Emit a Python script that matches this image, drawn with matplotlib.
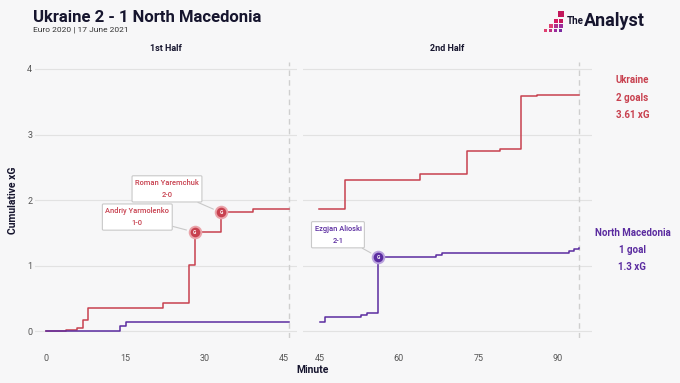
import matplotlib.pyplot as plt
from matplotlib.patches import Rectangle
import numpy as np

# cumulative xG, first half
ukr1_min = [0, 3.9, 6.0, 7.1, 8.0, 22.1, 27.1, 28.1, 33.1, 39.1, 46]
ukr1_xg = [0, 0.02, 0.045, 0.17, 0.35, 0.43, 1.01, 1.51, 1.81, 1.86, 1.86]
mkd1_min = [0, 14.0, 15.1, 46]
mkd1_xg = [0, 0.08, 0.145, 0.145]

# cumulative xG, second half
ukr2_min = [45, 49.9, 64.0, 72.9, 79.0, 83.1, 86.1, 94]
ukr2_xg = [1.86, 2.30, 2.40, 2.75, 2.78, 3.58, 3.61, 3.61]
mkd2_min = [45.2, 46.0, 52.9, 54.0, 56.1, 67.0, 68.1, 92.1, 93.1, 94]
mkd2_xg = [0.145, 0.22, 0.245, 0.27, 1.13, 1.16, 1.19, 1.22, 1.25, 1.27]

# goals: (minute, xG, label, label position)
ukr_goals = [(28.1, 1.51, "Andriy Yarmolenko\n1-0", (17.3, 1.74)),
             (33.1, 1.81, "Roman Yaremchuk\n2-0", (22.9, 2.17))]
mkd_goals = [(56.1, 1.13, "Ezgjan Alioski\n2-1", (48.5, 1.47))]

half_ends = [46, 94]
ticks1 = [0, 15, 30, 45]
ticks2 = [45, 60, 75, 90]
yticks = [0, 1, 2, 3, 4]

RED = "#c8414f"
PURPLE = "#5b2ca0"
BG = "#f7f7f8"
DARK = "#16152e"

plt.rcParams['font.family'] = ['Roboto', 'DejaVu Sans']

fig = plt.figure(figsize=(6.8, 3.83), dpi=100, facecolor=BG)
ax1 = fig.add_axes([0.0515, 0.1185, 0.385, 0.7185])
ax2 = fig.add_axes([0.4455, 0.1185, 0.425, 0.7185])


def style(ax, ticks, xlim, end):
    ax.set_facecolor(BG)
    for s in ax.spines.values():
        s.set_visible(False)
    ax.set_xlim(*xlim)
    ax.set_ylim(-0.1, 4.1)
    ax.set_xticks(ticks)
    ax.set_yticks(yticks)
    ax.tick_params(axis="x", length=0, labelsize=6.5, labelcolor="#555555", pad=12)
    ax.tick_params(axis="y", length=0, labelsize=6.5, labelcolor="#555555", pad=2)
    ax.grid(axis="y", color="#e2e2e2", lw=0.8)
    ax.set_axisbelow(True)
    ax.axvline(end, color="#cfcfcf", lw=1, ls=(0, (4, 3)), zorder=1)


style(ax1, ticks1, (-2.0, 47.4), half_ends[0])
style(ax2, ticks2, (41.9, 96.4), half_ends[1])
ax2.tick_params(labelleft=False)

ax1.plot(ukr1_min, ukr1_xg, drawstyle="steps-post", color=RED, lw=1.1, zorder=3)
ax1.plot(mkd1_min, mkd1_xg, drawstyle="steps-post", color=PURPLE, lw=1.1, zorder=3)
ax2.plot(ukr2_min, ukr2_xg, drawstyle="steps-post", color=RED, lw=1.1, zorder=3)
ax2.plot(mkd2_min, mkd2_xg, drawstyle="steps-post", color=PURPLE, lw=1.1, zorder=3)


def goals(ax, items, color, halo):
    for m, xg, label, pos in items:
        ax.scatter([m], [xg], s=95, color=halo, zorder=4, lw=0)
        ax.scatter([m], [xg], s=48, color=color, zorder=5, lw=0)
        ax.text(m, xg, "G", color="white", fontsize=3.5, fontweight="bold",
                ha="center", va="center", zorder=6)
        ax.annotate(label, xy=(m, xg), xytext=pos, ha="center", va="center",
                    fontsize=5.4, color=color, linespacing=1.7, zorder=7,
                    fontweight="medium",
                    bbox=dict(boxstyle="round,pad=0.4,rounding_size=0.15",
                              fc="white", ec="#c9c9c9", lw=0.8),
                    arrowprops=dict(arrowstyle="-", color="#c9c9c9", lw=0.8,
                                    shrinkA=0, shrinkB=6))


goals(ax1, ukr_goals, RED, "#eaa3a9")
goals(ax2, mkd_goals, PURPLE, "#b9a2dd")

ax1.set_title("1st Half", fontsize=6.5, fontweight="bold", color=DARK, pad=8)
ax2.set_title("2nd Half", fontsize=6.5, fontweight="bold", color=DARK, pad=8)
fig.text(13 / 680, 1 - 200 / 383, "Cumulative xG", fontsize=7.5, fontweight="bold",
         color=DARK, rotation=90, ha="center", va="center")
fig.text(0.46, 1 - 370 / 383, "Minute", fontsize=7.5, fontweight="bold", color=DARK,
         ha="center", va="center")

fig.text(0.049, 0.955, "Ukraine 2 - 1 North Macedonia", fontsize=12, fontweight="bold",
         color=DARK, va="center")
fig.text(0.049, 0.923, "Euro 2020 | 17 June 2021", fontsize=6, color="#333333", va="center")

fig.text(0.93, 0.745, "Ukraine\n2 goals\n3.61 xG", fontsize=7, fontweight="bold", color=RED,
         ha="center", va="center", linespacing=1.9)
fig.text(0.93, 0.348, "North Macedonia\n1 goal\n1.3 xG", fontsize=7, fontweight="bold",
         color=PURPLE, ha="center", va="center", linespacing=1.9)

# logo: pixel triangle + wordmark
squares = [(558, 11, 6, "#c2185b"), (554, 19, 4, "#d81b60"), (559, 19, 4, "#c2185b"),
           (549, 24, 4, "#e04070"), (554, 24, 4, "#b0308a"), (559, 24, 4, "#9c2a9a"),
           (544, 29, 3, "#e04070"), (549, 29, 3, "#c03080"), (554, 29, 3, "#9c2a9a"),
           (559, 29, 3, "#7b2aa0")]
for x, y, s, c in squares:
    fig.add_artist(Rectangle((x / 680, 1 - (y + s) / 383), s / 680, s / 383,
                             transform=fig.transFigure, color=c, lw=0))
fig.text(567 / 680, 1 - 21 / 383, "The", fontsize=7, fontweight="bold", color=DARK, va="center")
fig.text(584 / 680, 1 - 21 / 383, "Analyst", fontsize=13, fontweight="bold", color=DARK,
         va="center")

plt.savefig("out.png", dpi=100, facecolor=BG)
